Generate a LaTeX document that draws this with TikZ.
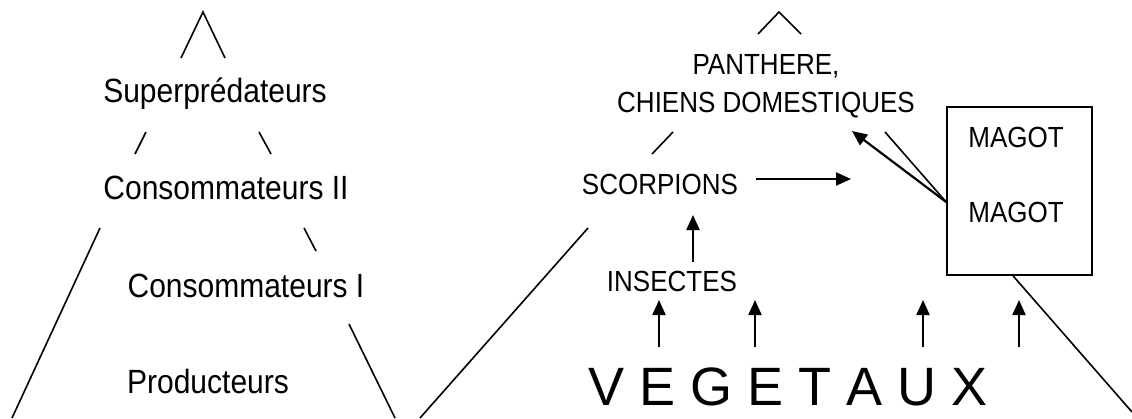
\documentclass[tikz,border=0pt]{standalone}
\usepackage{fontspec}
\setmainfont{Liberation Sans}
\usepackage{graphicx}
\usetikzlibrary{arrows.meta,positioning}
\newcommand{\tall}[1]{\scalebox{1}[1.12]{#1}}

\begin{document}
\begin{tikzpicture}[x=1pt,y=-1pt, every node/.style={inner sep=0pt},
    big/.style={font=\fontsize{30}{36}\selectfont, anchor=base},
    caps/.style={font=\fontsize{26}{38}\selectfont, anchor=base},
    ln/.style={line width=1.6pt},
    arr/.style={line width=2.2pt, -{Triangle[length=15pt,width=13pt]}}]
    \useasboundingbox (0,0) rectangle (1132,418);
    % pyramide generale
    \node[big] (sup) at (215,102) {\tall{Superprédateurs}};
    \node[big] (c2) at (226,199) {\tall{Consommateurs II}};
    \node[big] (c1) at (246,297) {\tall{Consommateurs I}};
    \node[big] (prod) at (208,393) {\tall{Producteurs}};
    \draw[ln] (181,58) -- (203,12) -- (225,58);
    \draw[ln] (135,154) -- (146,132);
    \draw[ln] (259,132) -- (271,154);
    \draw[ln] (100,228) -- (12,418);
    \draw[ln] (304,228) -- (316,251);
    \draw[ln] (349,324) -- (395,418);
    \draw[ln] (420,418) -- (588,228);
    % reseau local
    \node[caps, align=center, anchor=center] (pan) at (766,86) {\tall{PANTHERE,}\\\tall{CHIENS DOMESTIQUES}};
    \node[caps] (sc) at (660,194) {\tall{SCORPIONS}};
    \node[caps] (ins) at (672,291) {\tall{INSECTES}};
    \node[font=\fontsize{54}{60}\selectfont, anchor=base] (veg) at (788,405) {V E G E T A U X};
    \node[draw, ln, minimum width=145pt, minimum height=168pt] (box) at (1019.5,191) {};
    \node[caps] (m1) at (1016,147) {\tall{MAGOT}};
    \node[caps] (m2) at (1016,222) {\tall{MAGOT}};
    \draw[ln] (758,34) -- (779,12) -- (801,34);
    \draw[ln] (652,154) -- (673,132);
    \coordinate (sc-e) at (756,179);
    \coordinate (sc-t) at (851,179);
    \draw[arr] (sc-e) -- (sc-t);
    \coordinate (ins-n) at (693,262);
    \coordinate (sc-s) at (693,215);
    \draw[arr] (ins-n) -- (sc-s);
    \coordinate (pan-se) at (852,131);
    \coordinate (pan-e) at (885,132);
    \draw[arr] ([yshift=-11pt]box.west) -- (pan-se);
    \draw[ln] ([yshift=-11pt]box.west) -- (pan-e);
    \draw[ln] ([xshift=-6.5pt]box.south) -- (1132,412);
    % fleches depuis les vegetaux
    \foreach \x/\n in {659/1,755/2,923/3,1019/4} {
        \coordinate (v\n) at (\x,347);
        \coordinate (t\n) at (\x,300);
        \draw[arr] (v\n) -- (t\n);
    }
\end{tikzpicture}
\end{document}
